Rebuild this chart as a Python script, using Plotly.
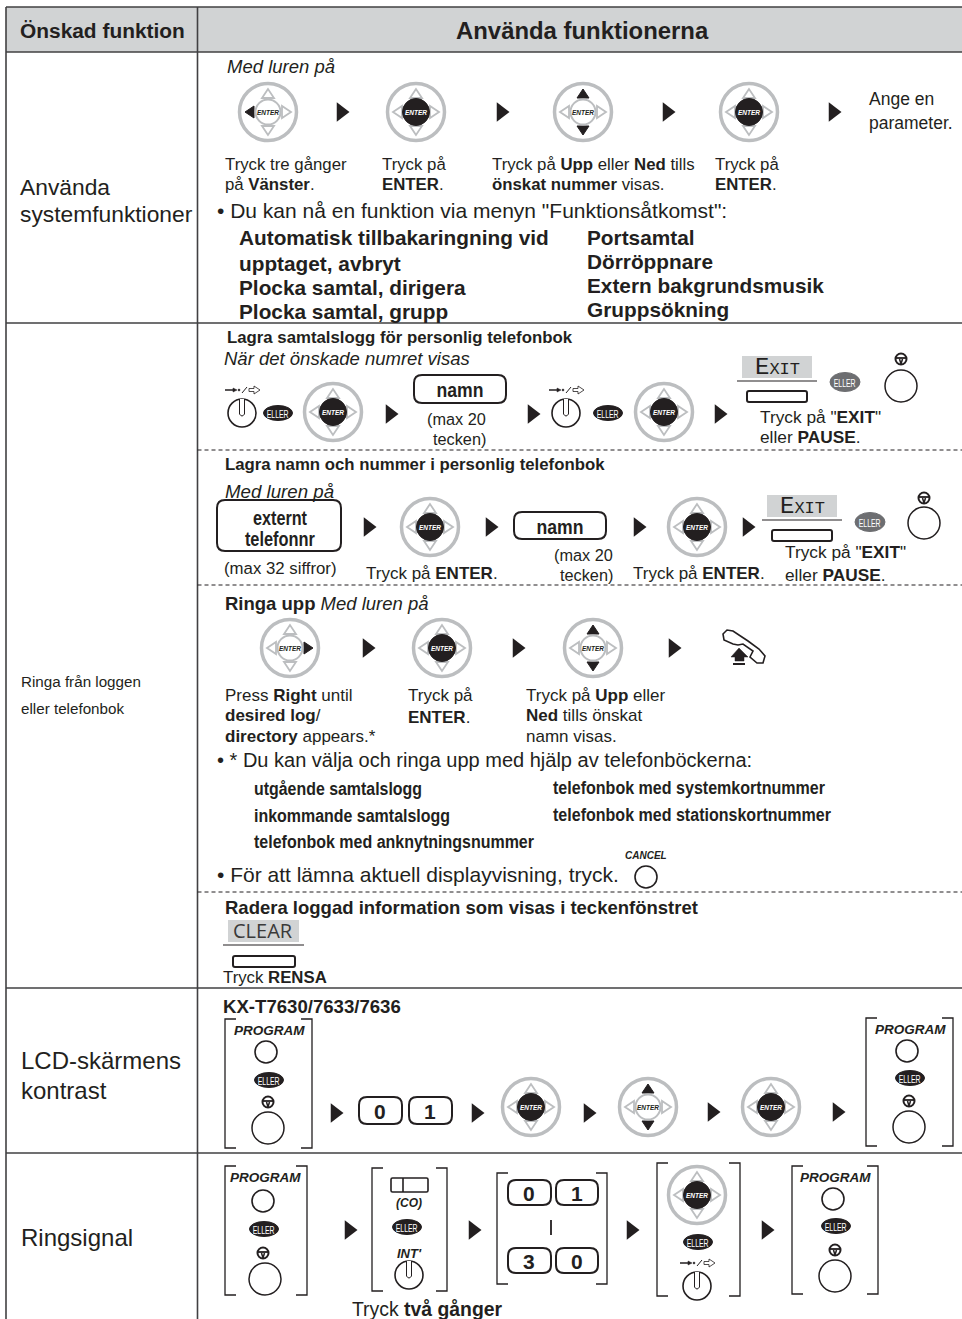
import json
import plotly.graph_objects as go

W, H = 962, 1319
BLACK = "#231f20"
RULE = "#414042"
GRAY = "#bcbec0"
HEAD = "#d1d3d4"
SANS = "Liberation Sans"

# ---------- text ----------
TEXT_LABELS = [
    "<b>Önskad funktion</b>", "<b>Använda funktionerna</b>",
    "Använda", "systemfunktioner", "Ringa från loggen", "eller telefonbok",
    "LCD-skärmens", "kontrast", "Ringsignal",
    "<i>Med luren på</i>", "Tryck tre gånger", "på <b>Vänster</b>.", "Tryck på", "<b>ENTER</b>.",
    "Tryck på <b>Upp</b> eller <b>Ned</b> tills", "<b>önskat nummer</b> visas.", "Tryck på", "<b>ENTER</b>.",
    "Ange en", "parameter.", "• Du kan nå en funktion via menyn \"Funktionsåtkomst\":",
    "<b>Automatisk tillbakaringning vid</b>", "<b>upptaget, avbryt</b>", "<b>Plocka samtal, dirigera</b>",
    "<b>Plocka samtal, grupp</b>", "<b>Portsamtal</b>", "<b>Dörröppnare</b>", "<b>Extern bakgrundsmusik</b>",
    "<b>Gruppsökning</b>",
    "<b>Lagra samtalslogg för personlig telefonbok</b>", "<i>När det önskade numret visas</i>",
    "(max 20", "tecken)", "Tryck på \"<b>EXIT</b>\"", "eller <b>PAUSE</b>.",
    "<b>Lagra namn och nummer i personlig telefonbok</b>", "(max 32 siffror)", "Tryck på <b>ENTER</b>.",
    "(max 20", "tecken)", "Tryck på <b>ENTER</b>.", "Tryck på \"<b>EXIT</b>\"", "eller <b>PAUSE</b>.",
    "<b>Ringa upp</b> <i>Med luren på</i>", "Press <b>Right</b> until", "<b>desired log</b>/",
    "<b>directory</b> appears.*", "Tryck på", "<b>ENTER</b>.", "Tryck på <b>Upp</b> eller",
    "<b>Ned</b> tills önskat", "namn visas.",
    "• * Du kan välja och ringa upp med hjälp av telefonböckerna:",
    "• För att lämna aktuell displayvisning, tryck.",
    "<b>Radera loggad information som visas i teckenfönstret</b>", "Tryck <b>RENSA</b>",
    "<b>KX-T7630/7633/7636</b>", "Tryck <b>två gånger</b>",
]
TEXT_X = [
    20, 456, 20, 20, 21, 21, 21, 21, 21,
    227, 225, 225, 382, 382, 492, 492, 715, 715, 869, 869, 217,
    239, 239, 239, 239, 587, 587, 587, 587,
    227, 224, 427, 433, 760, 760,
    225, 224, 366, 554, 560, 633, 785, 785,
    225, 225, 225, 225, 408, 408, 526, 526, 526, 217, 217, 225, 223, 223, 352,
]
TEXT_Y = [
    30, 30, 187, 214, 681, 708, 1060, 1090, 1237,
    66, 164, 184, 164, 184, 164, 184, 164, 184, 99, 123, 210,
    237, 263, 287, 311, 237, 261, 285, 309,
    337, 358, 419, 439, 417, 437,
    464, 568, 573, 555, 575, 573, 552, 575,
    603, 695, 715, 736, 695, 717, 695, 715, 736, 760, 874, 907, 977, 1006, 1309,
]
TEXT_SIZE = [
    20.9, 23.9, 22.8, 22.8, 15.2, 15.2, 24, 24, 24,
    18.5, 16.8, 16.8, 16.8, 16.8, 16.8, 16.8, 16.8, 16.8, 17.5, 17.5, 21,
    20.8, 20.8, 20.8, 20.8, 20.8, 20.8, 20.8, 20.8,
    16.8, 18.5, 16.3, 16.3, 17.3, 17.3,
    16.8, 16.8, 17, 16.3, 16.3, 17, 17.3, 17.3,
    18.5, 17, 17, 17, 17, 17, 17, 17, 17, 20, 21, 18.5, 16.8, 18.6, 19.4,
]

NARROW_LABELS = ["utgående samtalslogg", "telefonbok med systemkortnummer", "inkommande samtalslogg",
                 "telefonbok med stationskortnummer", "telefonbok med anknytningsnummer"]
NARROW_X = [254, 553, 254, 553, 254]
NARROW_Y = [789, 788, 816, 815, 842]
NARROW_W = [168, 272, 196, 278, 280]

KEY_LABELS = ["namn", "externt", "telefonnr", "namn", "0", "1", "0", "1", "3", "0"]
KEY_TEXT_X = [460, 280, 280, 560, 380, 430, 529, 577, 529, 577]
KEY_TEXT_Y = [389, 517, 538, 526, 1111, 1111, 1193, 1193, 1261, 1261]

# Rendered widths for the labels set in a condensed cut
CONDENSED = {"namn": 47, "externt": 54, "telefonnr": 70, "ELLER": 22}
CONDENSED.update(dict(zip(NARROW_LABELS, NARROW_W)))

# ---------- icon placements ----------
ARROW_X = [341, 501, 667, 833, 390, 532, 719, 368, 490, 638, 747, 367, 517, 673,
           335, 476, 588, 712, 837, 349, 473, 631, 766]
ARROW_Y = [112, 112, 112, 112, 414, 414, 414, 527, 527, 527, 527, 648, 648, 648,
           1113, 1113, 1113, 1112, 1112, 1230, 1230, 1230, 1230]

NAV_X = [268, 416, 583, 749, 333, 664, 430, 697, 290, 442, 593, 531, 648, 771, 697]
NAV_Y = [112, 112, 112, 112, 412, 412, 527, 527, 648, 648, 648, 1107, 1107, 1107, 1195]
NAV_MODE = ["left", "enter", "updown", "enter", "enter", "enter", "enter", "enter",
            "right", "enter", "updown", "enter", "updown", "enter", "enter"]

ELLER_X = [278, 608, 269, 910, 264, 407, 698, 836]
ELLER_Y = [413, 413, 1080, 1078, 1229, 1227, 1242, 1226]
ELLER_GRAY_X = [845, 870]
ELLER_GRAY_Y = [382, 522]

KNOB_X = [242, 566, 409, 697]
KNOB_Y = [413, 413, 1275, 1286]
FLASH_X = [242, 566, 697]
FLASH_Y = [390, 390, 1263]

STEER_X = [901, 924, 268, 909, 263, 835]
STEER_Y = [359, 498, 1102, 1101, 1253, 1250]
BIG_CIRCLE_X = [901, 924, 268, 909, 265, 835]
BIG_CIRCLE_Y = [386, 523, 1128, 1127, 1279, 1276]
SMALL_CIRCLE_X = [646, 266, 907, 263, 833]
SMALL_CIRCLE_Y = [877, 1052, 1051, 1201, 1199]

PROGRAM_X = [269, 910, 265, 835]
PROGRAM_Y = [1030, 1029, 1177, 1177]

SOFT_LABELS = ["Exit", "Exit", "CLEAR"]
SOFT_BOX = [(742, 812, 356, 378), (767, 837, 495, 517), (228, 299, 920, 942)]
SOFT_RULE = [(737, 817, 381), (762, 842, 520), (223, 304, 945)]
SOFT_BTN = [(747, 807, 391, 402), (772, 832, 530, 541), (233, 295, 956, 967)]

KEY_BOXES = [(414, 506, 375, 403), (217, 341, 500, 551), (514, 606, 512, 539),
             (359, 402, 1097, 1124), (409, 452, 1097, 1124),
             (508, 551, 1180, 1205), (556, 598, 1180, 1205),
             (508, 551, 1248, 1273), (556, 598, 1248, 1273)]
BRACKETS = [(225, 312, 1019, 1148), (866, 953, 1018, 1146), (225, 307, 1166, 1295),
            (372, 447, 1168, 1291), (497, 607, 1173, 1284), (657, 740, 1163, 1296),
            (792, 878, 1166, 1294)]

H_RULES_Y = [7, 52, 323, 988, 1153]
DASH_Y = [450, 585, 892]
COL_X = [6, 197.5]

shapes, notes = [], []


def line(x0, y0, x1, y1, color=BLACK, w=1.5, dash=None):
    shapes.append(dict(type="line", x0=x0, y0=y0, x1=x1, y1=y1,
                       line=dict(color=color, width=w, dash=dash), layer="above"))


def oval(cx, cy, rx, ry, fill="rgba(0,0,0,0)", color=BLACK, w=1.5):
    shapes.append(dict(type="circle", x0=cx - rx, x1=cx + rx, y0=cy - ry, y1=cy + ry,
                       fillcolor=fill, line=dict(color=color, width=w), layer="above"))


def path(d, fill="rgba(0,0,0,0)", color=BLACK, w=1.5):
    shapes.append(dict(type="path", path=d, fillcolor=fill,
                       line=dict(color=color, width=w), layer="above"))


def poly(pts, **kw):
    path("M" + " L".join(f"{x},{y}" for x, y in pts) + " Z", **kw)


def rrect(x0, x1, y0, y1, r, **kw):
    path(f"M{x0+r},{y0} L{x1-r},{y0} Q{x1},{y0} {x1},{y0+r} L{x1},{y1-r} Q{x1},{y1} {x1-r},{y1} "
         f"L{x0+r},{y1} Q{x0},{y1} {x0},{y1-r} L{x0},{y0+r} Q{x0},{y0} {x0+r},{y0} Z", **kw)


def note(text, x, y, size, family=SANS, color=BLACK, anchor="left", **font):
    # An annotation box pads its text by 2px, so left-anchored text starts 2px earlier.
    notes.append(dict(text=text, x=x - 2 if anchor == "left" else x, y=y, xref="x", yref="y",
                      showarrow=False, xanchor=anchor, yanchor="middle", align=anchor,
                      font=dict(family=family, size=size, color=color, **font)))


def nav(cx, cy, mode):
    oval(cx, cy, 28.5, 28.5, color=GRAY, w=3.5)
    active = {"left": "l", "right": "r", "updown": "ud", "enter": ""}[mode]
    for k, pts in {
        "u": [(0, -23), (-6, -14), (6, -14)], "d": [(0, 23), (-6, 14), (6, 14)],
        "l": [(-23, 0), (-14, -6), (-14, 6)], "r": [(23, 0), (14, -6), (14, 6)],
    }.items():
        p = [(cx + a, cy + b) for a, b in pts]
        if k in active:
            poly(p, fill=BLACK, color=BLACK, w=1)
        else:
            poly(p, fill="white", color=GRAY, w=1.8)
    if mode == "enter":
        oval(cx, cy, 13.5, 13.5, fill=BLACK, color=BLACK, w=1)
        note("<b><i>ENTER</i></b>", cx, cy, 6.5, color="white", anchor="center")
    else:
        oval(cx, cy, 12.5, 12.5, fill="white", color=GRAY, w=2)
        note("<b><i>ENTER</i></b>", cx, cy, 6.5, anchor="center")


def eller(cx, cy, fill=BLACK, ry=7.5, rx=14.5):
    oval(cx, cy, rx, ry, fill=fill, color=fill, w=1)
    note("ELLER", cx, cy + 0.5, 10.5, color="white", anchor="center")


def knob(cx, cy):
    oval(cx, cy, 14, 14, w=1.6)
    path(f"M{cx-2.5},{cy-14} L{cx-2.5},{cy+1} Q{cx},{cy+5} {cx+2.5},{cy+1} L{cx+2.5},{cy-14}",
         fill="white", w=1)


def flash(cx, cy):
    line(cx - 17, cy, cx - 7, cy, w=1.5)
    poly([(cx - 9, cy - 2), (cx - 5, cy), (cx - 9, cy + 2)], fill=BLACK, w=0.5)
    oval(cx - 3, cy, 1, 1, fill=BLACK, w=0.5)
    line(cx + 0, cy + 3, cx + 5, cy - 3, w=1)
    poly([(cx + 7, cy - 1.5), (cx + 12, cy - 1.5), (cx + 12, cy - 4), (cx + 18, cy),
          (cx + 12, cy + 4), (cx + 12, cy + 1.5), (cx + 7, cy + 1.5)], w=0.8)


def steer(cx, cy):
    oval(cx, cy, 5.5, 5.5, w=2)
    line(cx - 5, cy - 1, cx + 5, cy - 1, w=1.8)
    line(cx - 1.5, cy, cx, cy + 5, w=1.5)
    line(cx + 1.5, cy, cx, cy + 5, w=1.5)


def bracket(x0, x1, y0, y1, stub=11):
    path(f"M{x0+stub},{y0} L{x0},{y0} L{x0},{y1} L{x0+stub},{y1}", w=1.3)
    path(f"M{x1-stub},{y0} L{x1},{y0} L{x1},{y1} L{x1-stub},{y1}", w=1.3)


# ---------- table ----------
shapes.append(dict(type="rect", x0=COL_X[0], x1=W, y0=H_RULES_Y[0], y1=H_RULES_Y[1],
                   fillcolor=HEAD, line=dict(width=0), layer="below"))
for y in H_RULES_Y:
    line(COL_X[0], y, W, y, color=RULE, w=1.6)
for x in COL_X:
    line(x, H_RULES_Y[0], x, H, color=RULE, w=1.6)
for y in DASH_Y:
    shapes.append(dict(type="line", x0=COL_X[1], x1=W, y0=y, y1=y, layer="above",
                       line=dict(color=BLACK, width=1, dash="4px,3px")))

# ---------- icons ----------
for x, y, m in zip(NAV_X, NAV_Y, NAV_MODE):
    nav(x, y, m)
for x, y in zip(ELLER_X, ELLER_Y):
    eller(x, y)
for x, y in zip(ELLER_GRAY_X, ELLER_GRAY_Y):
    eller(x, y, fill="#6d6e71", ry=9.5, rx=15)
for x, y in zip(KNOB_X, KNOB_Y):
    knob(x, y)
for x, y in zip(FLASH_X, FLASH_Y):
    flash(x, y)
for x, y in zip(STEER_X, STEER_Y):
    steer(x, y)
for x, y in zip(BIG_CIRCLE_X, BIG_CIRCLE_Y):
    oval(x, y, 16, 16, w=1.5)
for x, y in zip(SMALL_CIRCLE_X, SMALL_CIRCLE_Y):
    oval(x, y, 11, 11, w=1.6)
for x, y in zip(PROGRAM_X, PROGRAM_Y):
    note("<b><i>PROGRAM</i></b>", x, y, 13.5, anchor="center")
for b in KEY_BOXES:
    rrect(*b, 8, w=2)
for b in BRACKETS:
    bracket(*b)
for lab, box, rule, btn in zip(SOFT_LABELS, SOFT_BOX, SOFT_RULE, SOFT_BTN):
    shapes.append(dict(type="rect", x0=box[0], x1=box[1], y0=box[2], y1=box[3],
                       fillcolor=HEAD, line=dict(width=0), layer="below"))
    line(rule[0], rule[2], rule[1], rule[2], w=1.2)
    rrect(*btn, 2, w=2)
    cx = (box[0] + box[1]) / 2
    cy = (box[2] + box[3]) / 2
    if lab == "Exit":
        note(lab, cx, cy, 24, family="Liberation Mono", anchor="center", variant="small-caps")
    else:
        note(lab, box[0] + 5, cy - 1, 20, family="Open Sans", color="#3a3a3a")

# CO key, INT', CANCEL, separator
rrect(391, 428, 1178, 1192, 1.5, w=1.6)
line(403, 1178, 403, 1192, w=1.6)
note("<b><i>(CO)</i></b>", 409, 1203, 12, anchor="center")
note("<b><i>INT'</i></b>", 409, 1253, 13, anchor="center")
note("<b><i>CANCEL</i></b>", 646, 855, 10, anchor="center")
line(551, 1220, 551, 1235, w=1.8)

# Handset and lift arrow
ox, oy = 700, 620
poly([(ox + a, oy + b) for a, b in [(23, 14), (27, 10), (33, 11), (48, 21), (59, 29), (65, 36), (63, 43),
                                    (57, 43), (50, 37), (53, 31), (43, 24), (38, 25), (33, 24), (24, 20)]], w=1.6)
poly([(ox + a, oy + b) for a, b in [(39, 28), (48, 37), (44, 37), (44, 41), (35, 41), (35, 37), (31, 37)]],
     fill=BLACK, w=0.5)
line(ox + 33, oy + 44, ox + 45, oy + 44, w=2)

# ---------- text ----------
for t, x, y, s in zip(TEXT_LABELS, TEXT_X, TEXT_Y, TEXT_SIZE):
    note(t, x, y, s)
for t, x, y in zip(NARROW_LABELS, NARROW_X, NARROW_Y):
    note(t, x, y, 18, weight=700)
for t, x, y in zip(KEY_LABELS, KEY_TEXT_X, KEY_TEXT_Y):
    note(t, x, y, 21, anchor="center", weight=700)
line(225, 500, 334, 500, w=1)  # underline of the "Med luren på" heading
note("<i>Med luren på</i>", 225, 491, 18.7)

fig = go.Figure(go.Scatter(x=ARROW_X, y=ARROW_Y, mode="markers", hoverinfo="skip",
                           marker=dict(symbol="triangle-right", size=17, color=BLACK,
                                       line=dict(width=0))))
fig.update_layout(
    width=W, height=H, margin=dict(l=0, r=0, t=0, b=0), showlegend=False,
    paper_bgcolor="white", plot_bgcolor="white", shapes=shapes, annotations=notes,
    xaxis=dict(range=[0, W], visible=False, fixedrange=True),
    yaxis=dict(range=[H, 0], visible=False, fixedrange=True),
)
POST = """
document.body.style.margin = '0';
document.documentElement.style.overflow = 'hidden';
const widths = %s;
document.querySelectorAll('text.annotation-text').forEach(t => {
  const w = widths[t.textContent];
  if (w) { t.setAttribute('textLength', w); t.setAttribute('lengthAdjust', 'spacingAndGlyphs'); }
});
""" % json.dumps(CONDENSED, ensure_ascii=False)
fig.write_html("out.html", config=dict(displayModeBar=False), post_script=POST)
